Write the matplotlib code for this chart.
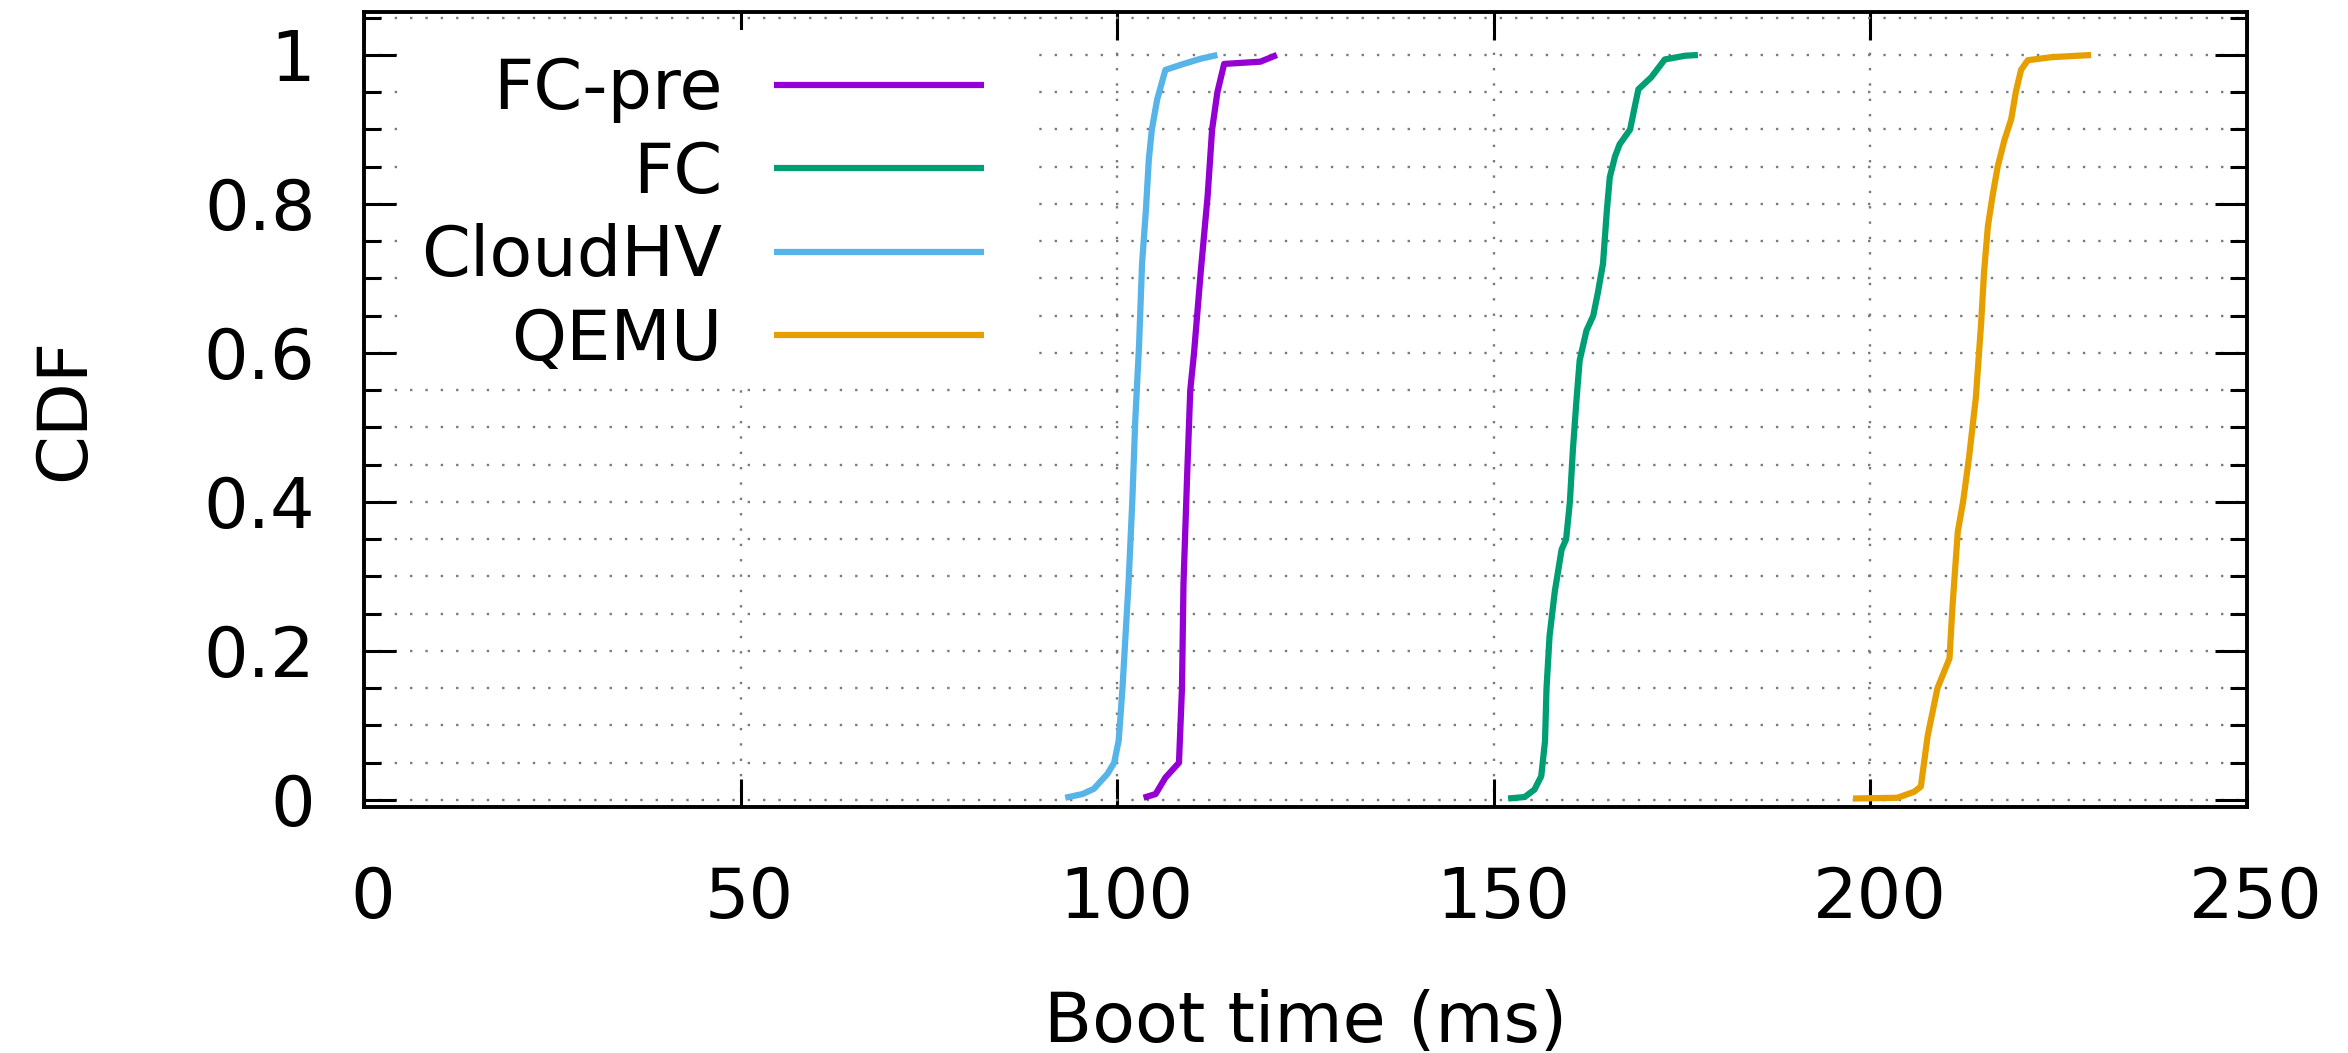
import numpy as np
import matplotlib
matplotlib.use("Agg")
import matplotlib.pyplot as plt
import matplotlib.transforms as mtransforms
from matplotlib.patches import Rectangle
from matplotlib.ticker import MultipleLocator, FuncFormatter

# CDF curves (boot time in ms, cumulative fraction)
fcpre_x = [103.5, 105.1, 106.4, 108.2, 108.6, 108.8, 109.3, 109.7, 110.2, 111.1,
           112.0, 112.6, 113.3, 114.2, 119.0, 121.2]
fcpre_y = [0.003, 0.008, 0.03, 0.05, 0.15, 0.29, 0.44, 0.55, 0.60, 0.71,
           0.81, 0.90, 0.95, 0.988, 0.991, 1.0]

fc_x = [151.9, 154.1, 155.4, 156.3, 156.8, 157.0, 157.4, 158.1, 159.0, 159.6,
        160.1, 160.5, 161.0, 161.4, 162.3, 163.2, 163.8, 164.5, 165.0, 165.4,
        166.1, 166.7, 168.1, 168.7, 169.2, 170.9, 172.7, 175.4, 177.1]
fc_y = [0.002, 0.004, 0.014, 0.032, 0.079, 0.15, 0.22, 0.28, 0.336, 0.35,
        0.40, 0.47, 0.54, 0.59, 0.63, 0.65, 0.68, 0.72, 0.79, 0.836,
        0.864, 0.88, 0.90, 0.93, 0.954, 0.97, 0.994, 0.999, 1.0]

cloudhv_x = [93.1, 95.4, 96.9, 98.7, 99.6, 100.2, 100.7, 101.1, 101.5, 102.0,
             102.4, 102.9, 103.3, 103.8, 104.2, 104.6, 105.3, 106.4, 108.8, 111.1, 113.3]
cloudhv_y = [0.003, 0.008, 0.015, 0.035, 0.05, 0.08, 0.15, 0.22, 0.29, 0.40,
             0.51, 0.61, 0.72, 0.79, 0.86, 0.90, 0.94, 0.98, 0.988, 0.995, 1.0]

qemu_x = [197.7, 203.6, 205.8, 206.7, 207.6, 208.9, 210.5, 210.9, 211.6, 212.3,
          213.1, 214.0, 214.7, 215.1, 215.6, 216.2, 216.9, 217.8, 218.7, 219.3,
          220.0, 220.9, 224.0, 229.3]
qemu_y = [0.002, 0.003, 0.011, 0.018, 0.086, 0.15, 0.19, 0.26, 0.36, 0.40,
          0.46, 0.54, 0.64, 0.71, 0.77, 0.81, 0.85, 0.886, 0.914, 0.95,
          0.98, 0.993, 0.997, 1.0]

labels = ["FC-pre", "FC", "CloudHV", "QEMU"]
colors = ["#9400d3", "#009e73", "#56b4e9", "#e69f00"]
xticks = [0, 50, 100, 150, 200, 250]

plt.rcParams['font.family'] = ['DejaVu Sans']
plt.rcParams['font.size'] = 50.5

W, H = 2348, 1053
fig = plt.figure(figsize=(W / 100, H / 100), dpi=100)
ax = fig.add_axes([364 / W, 1 - 807 / H, (2247 - 364) / W, 795 / H])

series = [(fcpre_x, fcpre_y), (fc_x, fc_y), (cloudhv_x, cloudhv_y), (qemu_x, qemu_y)]
handles = []
for (xs, ys), lab, col in zip(series, labels, colors):
    ln, = ax.plot(xs, ys, color=col, lw=4.5, label=lab, zorder=3,
                  solid_joinstyle='round', solid_capstyle='butt')
    handles.append(ln)

ax.set_xlim(0, 250)
ax.set_ylim(-0.0094, 1.0577)
ax.set_xticks(xticks)
ax.yaxis.set_major_locator(MultipleLocator(0.2))
ax.yaxis.set_minor_locator(MultipleLocator(0.05))
ax.yaxis.set_major_formatter(FuncFormatter(lambda v, p: '%g' % round(v, 2)))

# gnuplot style dotted grid
ax.set_axisbelow(True)
dots = dict(color='#7a7a7a', lw=1.7, linestyle=(0, (1, 5.5)))
ax.grid(True, which='major', axis='x', **dots)
ax.grid(True, which='both', axis='y', **dots)

ax.tick_params(axis='both', which='both', direction='in', top=True, right=True,
               width=2.2, color='black')
ax.tick_params(axis='x', which='major', length=20, pad=42)
ax.tick_params(axis='y', which='major', length=23, pad=35)
ax.tick_params(axis='y', which='minor', length=12)
for sp in ax.spines.values():
    sp.set_linewidth(2.8)

# gnuplot puts the x labels a little to the right of the tics
shift = mtransforms.ScaledTranslation(0.09, 0, fig.dpi_scale_trans)
for lbl in ax.get_xticklabels():
    lbl.set_transform(lbl.get_transform() + shift)

ax.set_xlabel("Boot time (ms)")
ax.xaxis.set_label_coords(0.5, -0.2289)
ax.set_ylabel("CDF")
ax.yaxis.set_label_coords(-0.1414, 0.5)

# key: opaque background, text on the left, sample on the right
ax.add_patch(Rectangle((0.0239, 0.531), 0.3298, 0.446, transform=ax.transAxes,
                       facecolor='white', edgecolor='none', zorder=1))
ax.legend(handles, labels, loc='upper right', bbox_to_anchor=(0.3293, 0.9443),
          markerfirst=False, frameon=False, handlelength=3.0, handletextpad=0.73,
          labelspacing=0.235, borderpad=0, borderaxespad=0)

fig.savefig("out.png", dpi=100, facecolor='white')
